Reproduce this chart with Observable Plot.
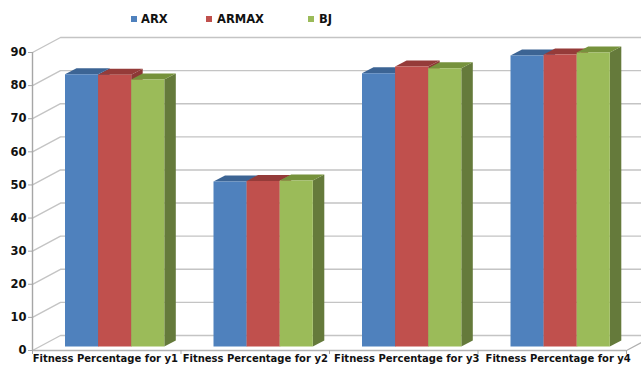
<!DOCTYPE html>
<html>
<head>
<meta charset="utf-8">
<script src="https://cdn.jsdelivr.net/npm/d3@7"></script>
<script src="https://cdn.jsdelivr.net/npm/@observablehq/plot@0.6"></script>
<style>
  html, body { margin: 0; padding: 0; background: #fff; overflow: hidden; }
  #chart { position: relative; width: 641px; height: 365px; overflow: hidden; }
  #chart svg { display: block; overflow: hidden; }
  .legend { position: absolute; top: 12px; left: 0; height: 14px; font: bold 11.5px "DejaVu Sans", sans-serif; color: #111; }
  .legend span { position: absolute; top: 0; line-height: 14px; white-space: nowrap; }
  .legend i { position: absolute; top: 4px; width: 6px; height: 6px; }
</style>
</head>
<body>
<div id="chart"></div>
<script>
// Fitness percentages per output and model structure
const categories = ["Fitness Percentage for y1", "Fitness Percentage for y2", "Fitness Percentage for y3", "Fitness Percentage for y4"];
const categoryLabelAt = [0.49, 1.5, 2.52, 3.54];
const seriesNames = ["ARX", "ARMAX", "BJ"];
const arx = [82.2, 49.8, 82.5, 87.9];
const armax = [82.1, 50.0, 84.6, 88.2];
const bj = [80.6, 50.1, 84.0, 88.8];
const yTicks = [0, 10, 20, 30, 40, 50, 60, 70, 80, 90];

const frontColors = ["#4f81bd", "#c0504d", "#9bbb59"];
const topColors = ["#3c6494", "#953b39", "#76923c"];
const sideColors = ["#385d8a", "#8c3836", "#657a3b"];

// Oblique projection, expressed in scale units so everything passes through x and y
const pxX = 148.5, pxY = 298 / 90;
const wall = {dx: 28 / pxX, dy: 15 / pxY};
const box = {dx: 11.5 / pxX, dy: 6 / pxY};
const barInset = 32.5 / pxX, barWidth = 33.1 / pxX, barLift = 4 / pxY;

const values = [arx, armax, bj];
const polygons = [];
categories.forEach((_, c) => {
  seriesNames.forEach((_, s) => {
    const v = values[s][c];
    const x0 = c + barInset + s * barWidth, x1 = x0 + barWidth;
    const y0 = barLift, y1 = v + barLift;
    const add = (face, fill, pts) => pts.forEach(([x, y]) => polygons.push({id: `${c}-${s}-${face}`, fill, x, y}));
    add("side", sideColors[s], [[x1, y0], [x1 + box.dx, y0 + box.dy], [x1 + box.dx, y1 + box.dy], [x1, y1]]);
    add("top", topColors[s], [[x0, y1], [x1, y1], [x1 + box.dx, y1 + box.dy], [x0 + box.dx, y1 + box.dy]]);
    add("front", frontColors[s], [[x0, y0], [x1, y0], [x1, y1], [x0, y1]]);
  });
});

// Back wall gridlines with their diagonal run back from the value axis
const grid = yTicks.flatMap(t => [
  {t, x: 0, y: t},
  {t, x: wall.dx, y: t + wall.dy},
  {t, x: 4.2, y: t + wall.dy}
]);
const floorRight = [{x: 4, y: 0}, {x: 4 + wall.dx, y: wall.dy}];
const boundaries = [0, 1, 2, 3, 4];

const plot = Plot.plot({
  width: 641,
  height: 365,
  marginLeft: 32,
  marginRight: 15,
  marginTop: 52,
  marginBottom: 15,
  style: {background: "#fff"},
  x: {type: "linear", domain: [0, 4], axis: null},
  y: {domain: [0, 90], axis: null},
  marks: [
    Plot.line(grid, {x: "x", y: "y", z: "t", stroke: "#c4c4c4", strokeWidth: 1.4}),
    Plot.line(floorRight, {x: "x", y: "y", stroke: "#b0b0b0", strokeWidth: 1.2}),
    Plot.line(polygons, {x: "x", y: "y", z: "id", fill: "fill", stroke: null}),
    Plot.ruleX([0], {stroke: "#a6a6a6", strokeWidth: 1.4}),
    Plot.ruleY([0], {stroke: "#b4b4b4", strokeWidth: 1.6}),
    Plot.ruleX(boundaries, {y1: 0, y2: -1.2, stroke: "#a6a6a6"}),
    Plot.axisY({
      ticks: yTicks, tickSize: 4, tickPadding: 2, stroke: "#a6a6a6",
      fill: "#111", fontSize: 11.5, fontWeight: "bold", fontFamily: "DejaVu Sans", label: null
    }),
    Plot.axisX({
      ticks: categoryLabelAt, tickSize: 0, tickPadding: 4,
      tickFormat: (d, i) => categories[i],
      fill: "#111", fontSize: 10, fontWeight: "bold", fontFamily: "DejaVu Sans", label: null
    })
  ]
});

const root = document.getElementById("chart");
root.appendChild(plot);

// Legend row above the plot
const legend = document.createElement("div");
legend.className = "legend";
[[131, 141], [206, 217], [308, 319]].forEach(([sw, tx], i) => {
  const swatch = document.createElement("i");
  swatch.style.left = sw + "px";
  swatch.style.background = frontColors[i];
  const label = document.createElement("span");
  label.style.left = tx + "px";
  label.textContent = seriesNames[i];
  legend.append(swatch, label);
});
root.appendChild(legend);
</script>
</body>
</html>
